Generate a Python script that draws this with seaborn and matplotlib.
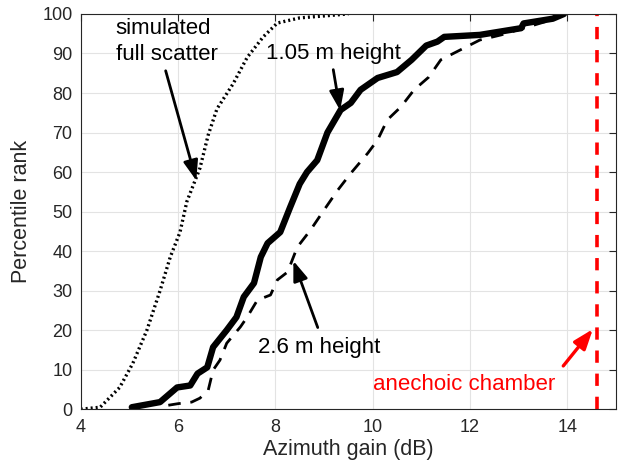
import numpy as np
import pandas as pd
import matplotlib
matplotlib.use("Agg")
import matplotlib.pyplot as plt
import seaborn as sns

# Data
sim_x = [4.0, 4.4, 4.8, 5.07, 5.36, 5.63, 5.84, 6.04, 6.18, 6.45, 6.62, 6.8, 7.13, 7.42, 7.75, 8.04, 8.5, 9.5]
sim_y = [0.0, 0.5, 5.5, 11.6, 20.0, 30.0, 38.5, 44.8, 52.5, 61.0, 69.4, 76.0, 82.3, 89.0, 94.2, 97.7, 99.0, 100.0]

h105_x = [5.05, 5.63, 5.98, 6.25, 6.4, 6.6, 6.72, 7.0, 7.2, 7.35, 7.56, 7.7, 7.84, 8.1, 8.3, 8.5, 8.65,
          8.86, 9.07, 9.34, 9.55, 9.75, 10.1, 10.5, 10.8, 11.1, 11.33, 11.47, 12.2, 13.05, 13.1, 13.7, 13.93]
h105_y = [0.5, 1.8, 5.5, 6.0, 9.0, 10.6, 15.7, 20.0, 23.3, 28.4, 31.9, 38.5, 42.0, 44.8, 51.0, 57.0, 60.0,
          63.0, 70.0, 75.7, 77.5, 80.8, 83.8, 85.3, 88.4, 92.0, 93.0, 94.2, 94.7, 96.4, 97.6, 98.8, 100.0]

h26_x = [5.8, 6.0, 6.28, 6.45, 6.62, 6.72, 6.86, 7.0, 7.28, 7.42, 7.63, 7.9, 8.04, 8.25, 8.45, 8.72,
         9.0, 9.28, 9.55, 9.9, 10.1, 10.3, 10.58, 10.85, 11.15, 11.4, 11.8, 12.2, 12.64, 13.1, 13.7, 13.93]
h26_y = [1.0, 1.4, 1.8, 2.8, 4.8, 9.9, 12.4, 16.7, 20.8, 23.3, 27.6, 28.9, 32.7, 34.7, 41.0, 45.3,
         50.4, 55.4, 59.7, 64.8, 68.1, 73.2, 76.5, 80.8, 84.0, 88.4, 90.9, 93.4, 94.7, 96.4, 98.6, 100.0]

anechoic_x = 14.6
anechoic_y = [0, 100]

x_ticks = [4, 6, 8, 10, 12, 14]
y_ticks = list(range(0, 101, 10))

sns.set_style("whitegrid")
plt.rcParams['font.family'] = ['Liberation Sans', 'DejaVu Sans']

fig = plt.figure(figsize=(6.21, 4.65), dpi=100)
ax = fig.add_axes([0.130, 0.120, 0.862, 0.850])

sns.lineplot(x=sim_x, y=sim_y, ax=ax, color='black', linewidth=2.4, sort=False, estimator=None)
ax.lines[-1].set_linestyle((0, (0.6, 0.9)))
sns.lineplot(x=h105_x, y=h105_y, ax=ax, color='black', linewidth=4.6, sort=False, estimator=None)
sns.lineplot(x=h26_x, y=h26_y, ax=ax, color='black', linewidth=2.0, sort=False, estimator=None)
ax.lines[-1].set_linestyle((0, (4.5, 3.5)))
sns.lineplot(x=[anechoic_x, anechoic_x], y=anechoic_y, ax=ax, color='#ff0000', linewidth=2.6,
             sort=False, estimator=None)
ax.lines[-1].set_linestyle((0, (3.4, 3.0)))

ax.set_xlim(4, 15)
ax.set_ylim(0, 100)
ax.set_xticks(x_ticks)
ax.set_yticks(y_ticks)
ax.set_xticklabels([str(t) for t in x_ticks])
ax.set_yticklabels([str(t) for t in y_ticks])

ax.grid(True, color='#e3e3e3', linewidth=0.8)
for s in ax.spines.values():
    s.set_visible(True)
    s.set_color('#262626')
    s.set_linewidth(0.8)
ax.tick_params(axis='both', which='both', direction='in', length=5, width=0.8,
               colors='#262626', labelsize=13, top=True, right=True, labeltop=False, labelright=False)
ax.tick_params(axis='x', pad=7)
ax.tick_params(axis='y', pad=6)

ax.set_xlabel('Azimuth gain (dB)', fontsize=15.5, color='#262626', labelpad=2)
ax.set_ylabel('Percentile rank', fontsize=15.5, color='#262626', labelpad=7)

fs = 16
arrow_style = '-|>,head_length=0.6,head_width=0.22'
ax.text(4.72, 93.0, 'simulated\nfull scatter', fontsize=fs, color='black', ha='left', va='center',
        multialignment='left', linespacing=1.3)
ax.annotate('', xy=(6.39, 57.2), xytext=(5.73, 86.3),
            arrowprops=dict(arrowstyle=arrow_style, color='black', lw=2, mutation_scale=20))

ax.text(7.81, 90.1, '1.05 m height', fontsize=fs, color='black', ha='left', va='center')
ax.annotate('', xy=(9.34, 74.9), xytext=(9.18, 86.6),
            arrowprops=dict(arrowstyle=arrow_style, color='black', lw=2, mutation_scale=20))

ax.text(7.65, 15.7, '2.6 m height', fontsize=fs, color='black', ha='left', va='center')
ax.annotate('', xy=(8.35, 38.2), xytext=(8.89, 20.0),
            arrowprops=dict(arrowstyle=arrow_style, color='black', lw=2, mutation_scale=20))

ax.text(10.0, 6.3, 'anechoic chamber', fontsize=fs, color='#ff0000', ha='left', va='center')
ax.annotate('', xy=(14.56, 20.8), xytext=(13.88, 10.4),
            arrowprops=dict(arrowstyle=arrow_style, color='#ff0000', lw=2.4, mutation_scale=20))

fig.savefig('out.png', dpi=100)
